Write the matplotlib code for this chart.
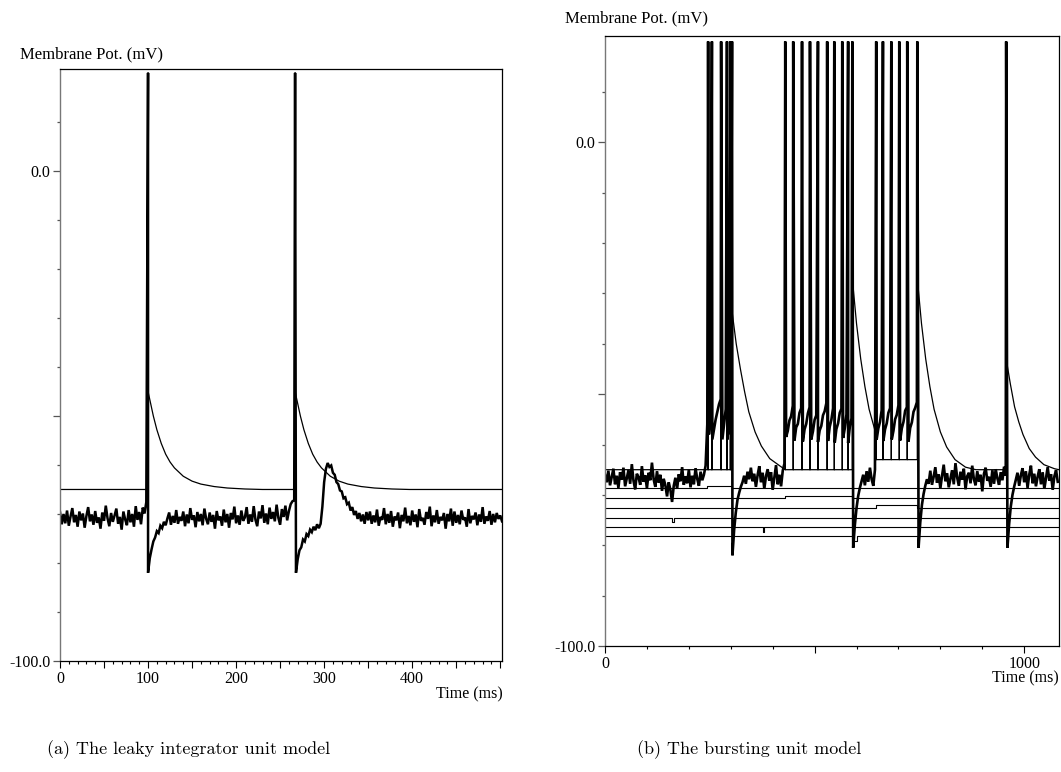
import numpy as np
import matplotlib
matplotlib.use("Agg")
import matplotlib.pyplot as plt

# ─────────────────────────────────────────────
#  DATA
# ─────────────────────────────────────────────
SPIKE_TOP = 20.0

# (a) leaky integrator: noisy membrane trace, one value every 2 ms (0 .. 502 ms)
LEAKY_DT = 2.0
LEAKY_NOISY = [
    -69.6, -72.1, -70.0, -71.9, -69.3, -72.4, -70.5, -68.8, -71.7, -70.2,
    -72.6, -69.5, -71.3, -69.9, -72.8, -70.4, -68.6, -71.5, -70.1, -72.2,
    -69.4, -71.8, -70.7, -73.0, -69.7, -71.4, -68.3, -70.9, -72.5, -69.8,
    -71.6, -70.3, -68.9, -72.0, -70.6, -73.2, -69.5, -71.1, -72.3, -69.2,
    -71.7, -70.0, -72.6, -68.4, -71.2, -69.6, -72.1, -68.7, -69.9, -67.6,
    -82.0, -79.0, -77.2, -75.6, -74.8, -73.5, -73.9, -72.4, -72.9, -71.6,
    -72.3, -70.9,
    -69.7, -72.2, -70.4, -71.8, -69.2, -72.0, -70.6, -71.4, -69.5, -72.5,
    -70.1, -71.9, -68.8, -71.2, -70.3, -72.7, -69.6, -71.5, -70.0, -72.3,
    -68.9, -71.0, -72.1, -69.7, -71.6, -70.2, -73.0, -69.4, -71.3, -70.5,
    -72.4, -69.1, -71.7, -70.0, -72.8, -69.8, -71.1, -68.5, -71.9, -70.3,
    -72.2, -69.3, -71.4, -70.7, -68.6, -72.0, -70.1, -71.6, -68.4, -71.2,
    -72.5, -69.5, -70.9, -68.2, -71.8, -69.9, -72.1, -68.7, -71.0, -69.6,
    -71.5, -68.1, -70.8, -72.2, -69.0, -70.6, -68.3, -71.3, -69.4, -68.0,
    -67.4, -67.2,
    -82.0, -79.2, -77.4, -76.8, -75.2, -75.6, -74.1, -74.5, -73.2, -73.7,
    -72.6, -73.3, -72.1, -72.9, -72.0,
    -68.5, -63.5, -60.8, -59.6, -60.4, -60.1, -61.6, -62.0, -63.5, -63.9,
    -65.2, -65.4, -66.8, -66.6, -68.0, -67.7, -69.3, -68.6, -70.2, -69.4,
    -71.0, -69.8, -71.5, -70.1, -72.0, -69.6, -71.3,
    -69.5, -72.0, -70.3, -71.7, -69.1, -72.4, -70.6, -71.2, -68.8, -72.1,
    -70.0, -71.8, -69.4, -72.6, -70.5, -71.3, -69.7, -72.9, -70.2, -71.5,
    -68.7, -71.9, -70.4, -72.3, -69.3, -71.6, -70.1, -72.7, -69.0, -71.4,
    -70.8, -72.2, -69.6, -71.0, -68.5, -72.5, -70.3, -71.7, -69.2, -72.0,
    -70.6, -71.3, -69.8, -73.0, -70.0, -71.5, -68.9, -72.4, -69.5, -71.8,
    -70.2, -72.1, -69.3, -71.2, -70.7, -72.6, -69.0, -71.9, -70.4, -71.1,
    -69.7, -72.3, -70.1, -71.6, -68.6, -72.0, -70.5, -71.4, -69.4, -72.2,
    -70.0, -71.7, -69.8, -71.0, -70.3, -71.5,
]
LEAKY_SPIKES = [100.0, 267.0]
LEAKY_REST = -65.0
LEAKY_DECAY_MS = [0, 3, 6, 10, 15, 20, 25, 30, 40, 50, 60, 75, 90, 110, 130]
LEAKY_DECAY_MV = [-45.0, -47.5, -50.0, -52.8, -55.6, -57.8, -59.4, -60.6,
                  -62.3, -63.3, -63.9, -64.4, -64.7, -64.9, -65.0]
LEAKY_TMAX = 502.0

# (b) bursting unit: noisy membrane trace, one value every 4 ms (0 .. 1080 ms)
BURST_DT = 4.0
BURST_NOISY = [
    -66.0, -67.5, -65.2, -68.1, -66.4, -64.8, -67.9, -66.2, -68.6, -65.5,
    -67.0, -64.6, -68.3, -66.7, -65.1, -67.8, -63.9, -67.2, -68.9, -65.8,
    -66.5, -68.0, -64.3, -67.4, -66.1, -68.7, -65.6, -67.1, -63.6, -66.9,
    -68.4, -65.3, -67.6, -66.0, -69.2, -66.8, -68.1, -70.3, -67.5, -69.0,
    -71.4, -68.2, -66.6, -68.8, -65.9, -67.3, -64.5, -68.0, -66.3, -67.7,
    -65.0, -68.5, -66.2, -67.9, -64.7, -66.8, -68.2, -65.4, -67.1, -66.0,
    -64.2,
    # burst 1
    -56.0, -58.0, -54.0, -59.0, -57.0, -55.0, -53.5, -52.0, -51.0, -59.0,
    -56.0, -53.0, -59.0, -55.0, -58.0,
    -82.0, -77.0, -73.5, -71.0, -69.6, -68.4, -67.5, -66.2, -67.8, -65.4,
    -66.9, -64.6, -67.3, -65.8, -68.4, -66.1, -64.3, -67.5, -65.6, -68.8,
    -66.3, -64.9, -67.2, -65.5, -69.0, -66.6, -64.1, -67.9, -66.0, -68.3,
    -65.2, -63.8,
    # burst 2
    -58.5, -57.3, -55.2, -54.4, -52.3, -59.2, -56.6, -55.9, -53.7, -52.8,
    -59.4, -57.0, -55.9, -53.8, -52.6, -59.0, -57.4, -55.1, -54.2, -59.5,
    -57.2, -56.3, -54.2, -53.4, -51.8, -59.3, -56.5, -55.1, -52.8, -59.6,
    -56.9, -55.8, -53.7, -52.9, -58.7, -56.8, -54.0, -59.7, -56.5, -54.8,
    -80.5, -76.0, -72.6, -70.2, -68.6, -67.3, -66.0, -68.1, -65.3, -67.4,
    -64.6, -66.9, -68.2, -65.0,
    # burst 3
    -59.0, -56.8, -55.5, -53.2, -59.3, -57.0, -55.8, -53.7, -52.8, -59.0,
    -57.3, -55.0, -54.1, -52.2, -59.2, -56.8, -55.5, -53.3, -52.6, -59.4,
    -56.7, -55.6, -53.5, -52.7, -51.6,
    -80.5, -75.5, -72.0, -69.8, -68.2, -66.9, -67.8, -65.2, -68.0, -66.4,
    -64.5, -67.6, -65.9, -68.7, -66.2, -64.0, -67.3, -65.7, -68.5, -66.8,
    -65.1, -67.9, -63.7, -66.5, -68.2, -65.4, -67.0, -64.8, -68.9, -66.3,
    -65.6, -67.7, -64.2, -66.9, -68.1, -65.3, -67.4, -66.0, -69.3, -65.8,
    -64.6, -67.2, -66.4, -68.4, -65.1, -67.8, -64.9, -66.7, -68.0, -65.5,
    -67.1, -64.4, -66.2,
    -80.5, -75.8, -72.3, -70.0, -68.4, -67.0, -65.6, -68.2, -66.1, -64.7,
    -67.5, -65.3, -68.6, -66.0, -64.2, -67.7, -65.8, -68.3, -66.4, -64.9,
    -67.9, -65.5, -68.8, -66.6, -64.5, -67.2, -65.9, -69.0, -66.3, -65.1,
    -67.4,
]
BURST_GROUPS = [
    [246, 255, 277, 291, 299, 303],
    [430, 449, 470, 489, 508, 530, 547, 566, 580, 590],
    [647, 663, 683, 702, 721, 745],
    [957],
]
BURST_FLOORS = [-65.0, -65.0, -63.0, -65.0]
BURST_DECAY_MS = [0, 10, 20, 30, 40, 55, 70, 90, 115, 140]
BURST_DECAY_MV = [
    [-33.5, -40.0, -45.0, -49.5, -53.5, -57.5, -60.3, -62.8, -64.3, -65.0],
    [-27.0, -36.0, -43.0, -48.5, -53.0, -57.5, -60.5, -63.0, -64.5, -65.0],
    [-27.0, -36.0, -43.0, -48.5, -53.0, -57.5, -60.5, -63.0, -64.5, -65.0],
    [-43.0, -48.0, -52.5, -55.5, -58.0, -60.8, -62.5, -64.0, -64.8, -65.0],
]
BURST_TMAX = 1083.0

# six flat traces below, each with one short step (start, end, level)
FLAT_LEVELS = [-68.7, -70.7, -72.6, -74.5, -76.4, -78.1]
FLAT_STEPS = [(243, 303, -68.3), (430, 590, -70.2), (647, 745, -72.0),
              (161, 164, -75.3), (376, 380, -77.4), (595, 601, -79.2)]


# ─────────────────────────────────────────────
#  HELPERS
# ─────────────────────────────────────────────
def noisy_trace(values, dt, spikes):
    t = np.arange(len(values)) * dt
    ts = np.concatenate([np.asarray(spikes, float), t])
    vs = np.concatenate([np.full(len(spikes), SPIKE_TOP), np.asarray(values, float)])
    order = np.argsort(ts, kind="stable")
    return ts[order], vs[order]


def spike_trace(groups, floors, decay_ms, decay_mv, tmax):
    t, v = [0.0], [floors[0]]
    for k, grp in enumerate(groups):
        fl = floors[k]
        t_next = groups[k + 1][0] if k + 1 < len(groups) else tmax
        for s in grp[:-1]:
            t += [s, s, s]
            v += [fl, SPIKE_TOP, fl]
        s = grp[-1]
        t += [s, s]
        v += [fl, SPIKE_TOP]
        for off, val in zip(decay_ms, decay_mv[k]):
            if s + off < t_next:
                t.append(s + off)
                v.append(val)
        if k + 1 < len(groups):
            t.append(t_next)
            v.append(floors[k + 1])
    t.append(tmax)
    v.append(floors[-1])
    return t, v


def style_axes(ax, xmaj, xlabels, xminor):
    for side in ("top", "right", "bottom"):
        ax.spines[side].set_color("black")
        ax.spines[side].set_linewidth(0.9)
    ax.spines["left"].set_color("#777777")
    ax.spines["left"].set_linewidth(1.0)
    ax.set_yticks([-100, -50, 0])
    ax.set_yticklabels(["-100.0", "", "0.0"])
    ax.set_yticks([v for v in range(-90, 20, 10) if v not in (-50, 0)], minor=True)
    ax.set_xticks(xmaj)
    ax.set_xticklabels(xlabels)
    ax.set_xticks(xminor, minor=True)
    ax.tick_params(axis="y", which="major", length=5, width=0.9,
                   color="#555555", pad=2, labelsize=11.5)
    ax.tick_params(axis="y", which="minor", length=2.2, width=0.9, color="#555555")
    ax.tick_params(axis="x", which="major", length=5, width=0.8,
                   color="black", pad=2, labelsize=11.5)
    ax.tick_params(axis="x", which="minor", length=2.2, width=0.8, color="black")
    for lab in ax.get_xticklabels() + ax.get_yticklabels():
        lab.set_family("Liberation Serif")


# ─────────────────────────────────────────────
#  FIGURE
# ─────────────────────────────────────────────
W, H = 1061, 772
fig = plt.figure(figsize=(W / 100, H / 100), dpi=100)
fig.patch.set_facecolor("white")

ax1 = fig.add_axes([60 / W, 1 - 661 / H, 442 / W, 592 / H])
ax2 = fig.add_axes([605 / W, 1 - 646 / H, 454 / W, 610 / H])

# (a) leaky integrator
tn, vn = noisy_trace(LEAKY_NOISY, LEAKY_DT, LEAKY_SPIKES)
ax1.plot(tn, vn, color="black", lw=1.8, solid_joinstyle="miter")
tt, vt = spike_trace([[s] for s in LEAKY_SPIKES], [LEAKY_REST] * len(LEAKY_SPIKES),
                     LEAKY_DECAY_MS, [LEAKY_DECAY_MV] * len(LEAKY_SPIKES), LEAKY_TMAX)
ax1.plot(tt, vt, color="black", lw=0.9)
ax1.set_xlim(0, LEAKY_TMAX)
ax1.set_ylim(-100, 20.8)
style_axes(ax1, list(range(0, 501, 50)),
           ["0", "", "100", "", "200", "", "300", "", "400", "", ""],
           [x for x in range(10, 500, 10) if x % 50])

# (b) bursting unit
for level, (a, b, step) in zip(FLAT_LEVELS, FLAT_STEPS):
    ax2.plot([0, a, a, b, b, BURST_TMAX], [level, level, step, step, level, level],
             color="black", lw=0.8)
tt, vt = spike_trace(BURST_GROUPS, BURST_FLOORS, BURST_DECAY_MS, BURST_DECAY_MV, BURST_TMAX)
ax2.plot(tt, vt, color="black", lw=0.9)
all_spikes = [s for g in BURST_GROUPS for s in g]
tn, vn = noisy_trace(BURST_NOISY, BURST_DT, all_spikes)
ax2.plot(tn, vn, color="black", lw=1.9, solid_joinstyle="miter")
ax2.set_xlim(0, BURST_TMAX)
ax2.set_ylim(-100, 21.1)
style_axes(ax2, [0, 500, 1000], ["0", "", "1000"],
           [x for x in range(100, 1000, 100) if x != 500])

# axis titles
serif = "Liberation Serif"
fig.text(20 / W, 1 - 58 / H, "Membrane Pot. (mV)", family=serif, fontsize=12,
         ha="left", va="baseline")
fig.text(565 / W, 1 - 22 / H, "Membrane Pot. (mV)", family=serif, fontsize=12,
         ha="left", va="baseline")
fig.text(503 / W, 1 - 694 / H, "Time (ms)", family=serif, fontsize=11.5,
         ha="right", va="center")
fig.text(1059 / W, 1 - 678 / H, "Time (ms)", family=serif, fontsize=11.5,
         ha="right", va="center")

# captions
fig.text(47 / W, 1 - 750 / H, "(a) The leaky integrator unit model",
         family="cmr10", fontsize=13, ha="left", va="center")
fig.text(637 / W, 1 - 750 / H, "(b) The bursting unit model",
         family="cmr10", fontsize=13, ha="left", va="center")

fig.savefig("out.png", dpi=100, facecolor="white")
